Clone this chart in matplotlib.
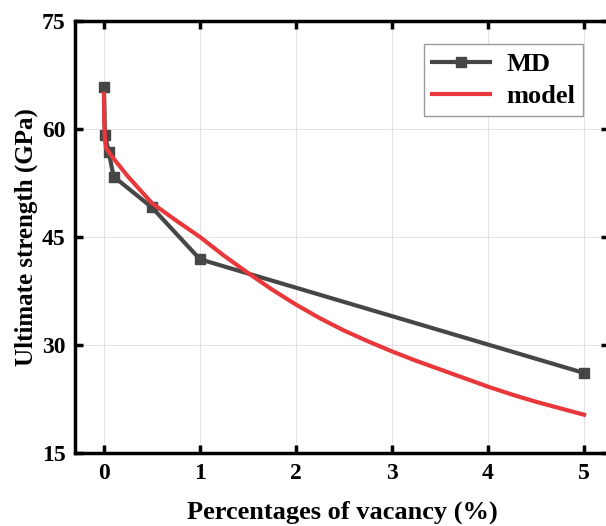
import matplotlib
matplotlib.use('Agg')
import matplotlib.pyplot as plt

# Dados
md_x = [0, 0.01, 0.05, 0.1, 0.5, 1, 5]
md_y = [65.9, 59.2, 56.8, 53.4, 49.1, 41.9, 26.1]

model_x = [0, 0.003, 0.01, 0.02, 0.05, 0.1, 0.25, 0.5, 0.75, 1, 1.25, 1.5, 1.75, 2,
           2.25, 2.5, 2.75, 3, 3.25, 3.5, 3.75, 4, 4.25, 4.5, 4.75, 5]
model_y = [64.9, 61.0, 58.5, 57.4, 56.8, 55.9, 53.4, 49.7, 47.3, 45.0, 42.4, 40.0, 37.7, 35.6,
           33.7, 32.0, 30.5, 29.1, 27.8, 26.6, 25.4, 24.2, 23.1, 22.1, 21.2, 20.3]

xticks = [0, 1, 2, 3, 4, 5]
yticks = [15, 30, 45, 60, 75]

plt.rcParams['font.family'] = ['Liberation Serif', 'DejaVu Serif']
plt.rcParams['font.weight'] = 'bold'

fig = plt.figure(figsize=(6.06, 5.26), dpi=100)
ax = fig.add_axes([0.124, 0.139, 0.881, 0.821])

ax.plot(md_x, md_y, color='#464646', lw=3, marker='s', ms=7, label='MD', zorder=3)
ax.plot(model_x, model_y, color='#e8383b', lw=3, label='model', zorder=4,
        solid_joinstyle='round')

ax.set_xlim(-0.3, 5.26)
ax.set_ylim(15, 75)
ax.set_xticks(xticks)
ax.set_yticks(yticks)
ax.grid(True, color='#e3e3e3', lw=0.8)
ax.set_axisbelow(True)

for s in ax.spines.values():
    s.set_linewidth(2.5)
ax.tick_params(direction='in', length=6, width=2.5, labelsize=17,
               top=True, right=True, pad=7)

ax.set_xlabel('Percentages of vacancy (%)', fontsize=19, fontweight='bold', labelpad=12)
ax.set_ylabel('Ultimate strength (GPa)', fontsize=18, fontweight='bold', labelpad=3)

leg = ax.legend(loc='upper right', bbox_to_anchor=(0.951, 0.946), borderaxespad=0,
                fontsize=19, fancybox=False, framealpha=1, edgecolor='#999999',
                handlelength=2.2, borderpad=0.3, labelspacing=0.35, handletextpad=0.6)
leg.get_frame().set_linewidth(1)

fig.savefig('out.png', dpi=100)
